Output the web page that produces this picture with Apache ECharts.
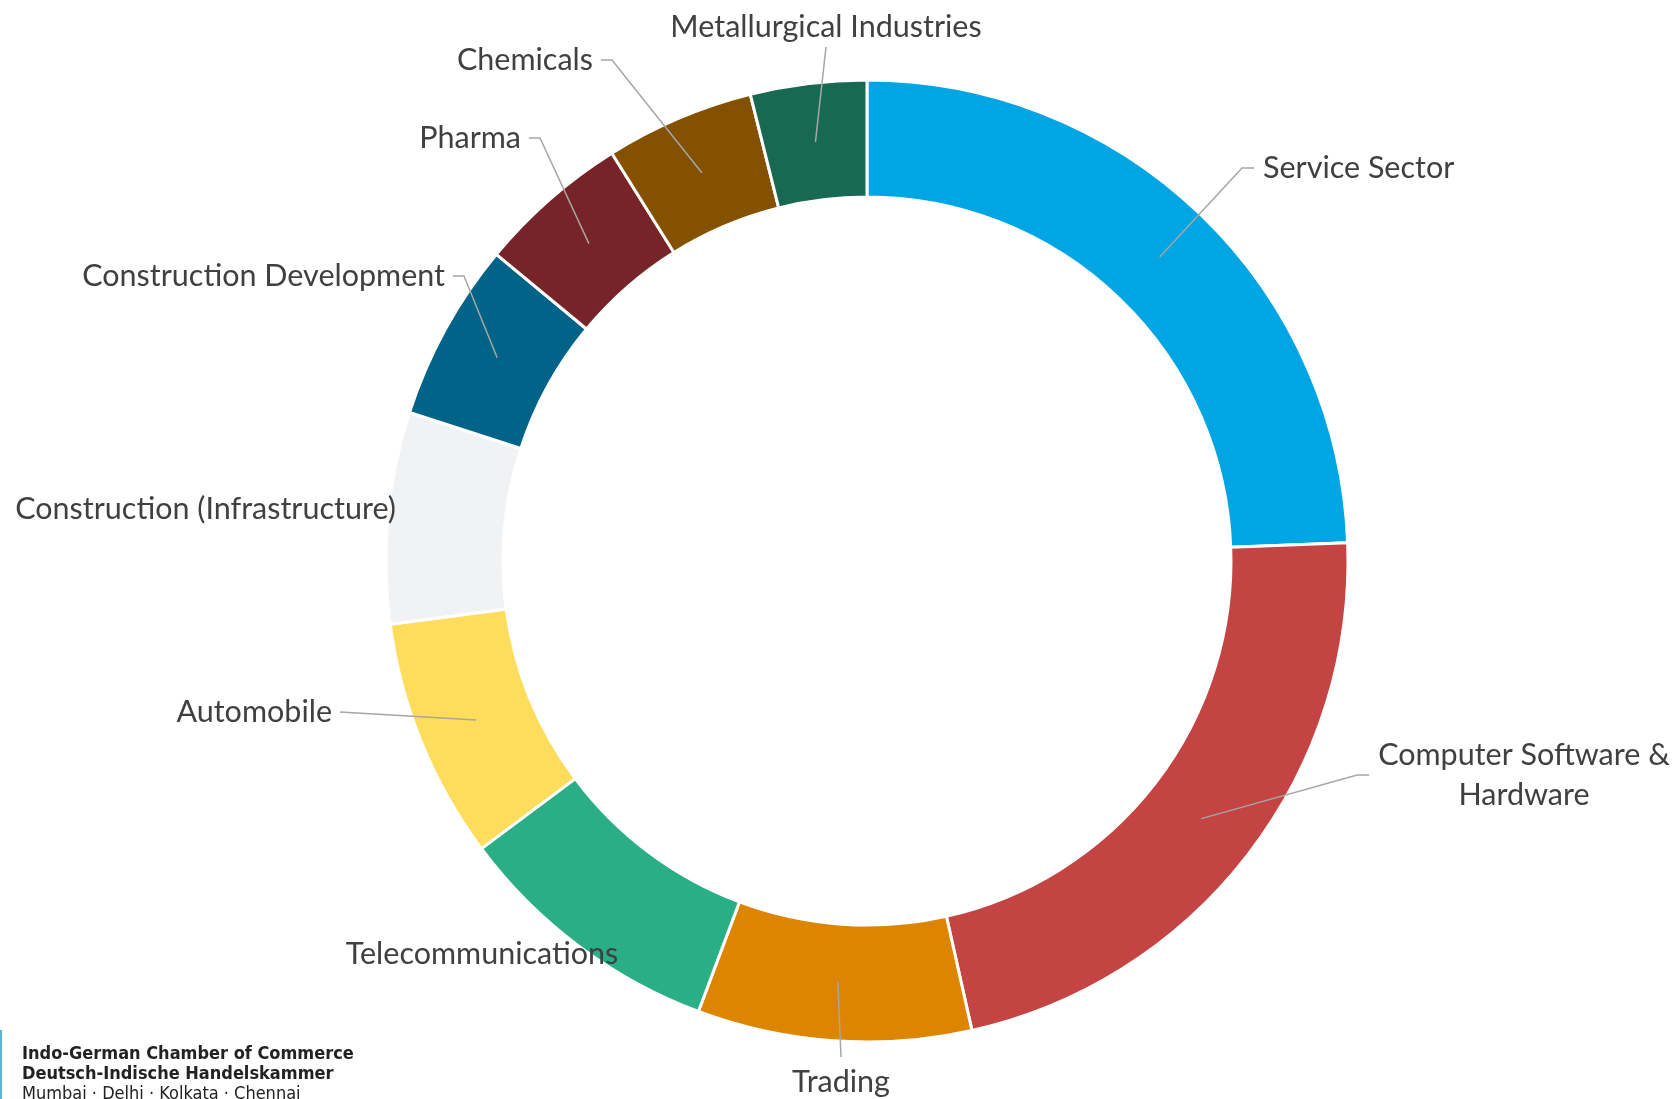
<!DOCTYPE html>
<html><head><meta charset="utf-8">
<script src="https://cdn.jsdelivr.net/npm/echarts/dist/echarts.min.js"></script>
<style>html,body{margin:0;padding:0;background:#fff}#c{width:1675px;height:1099px}</style>
</head><body><div id="c"></div>
<script>
const categories = ['Service Sector', 'Computer Software &\nHardware', 'Trading', 'Telecommunications', 'Automobile', 'Construction (Infrastructure)', 'Construction Development', 'Pharma', 'Chemicals', 'Metallurgical Industries'];
const shares = [24.4, 22.1, 9.2, 9.1, 8.1, 7.1, 6.0, 5.1, 5.0, 3.9];
const sliceColors = ['#00A5E3', '#C44343', '#DD8500', '#2AAE85', '#FFDD5C', '#F1F2F4', '#006387', '#762428', '#845100', '#176A51'];
const logoLines = ['Indo-German Chamber of Commerce', 'Deutsch-Indische Handelskammer', 'Mumbai · Delhi · Kolkata · Chennai'];

// label text placement (layout only): anchor x/y, text alignment, side the leader line arrives from
const labelPlacement = [
  { x: 1263, y: 168, align: 'left',   line: 'left',   elbow: true },
  { x: 1524, y: 775, align: 'center', line: 'left',   elbow: true },
  { x: 841,  y: 1082, align: 'center', line: 'top',   elbow: false },
  { x: 482,  y: 954, align: 'center', line: 'none',   elbow: false },
  { x: 332,  y: 712, align: 'right',  line: 'right',  elbow: false },
  { x: 396,  y: 509, align: 'right',  line: 'none',   elbow: false },
  { x: 445,  y: 276, align: 'right',  line: 'right',  elbow: true },
  { x: 521,  y: 138, align: 'right',  line: 'right',  elbow: true },
  { x: 593,  y: 60,  align: 'right',  line: 'right',  elbow: true },
  { x: 826,  y: 27,  align: 'center', line: 'bottom', elbow: false }
];

const chart = echarts.init(document.getElementById('c'));
const FONT = 'Lato';
chart.setOption({
  animation: false,
  backgroundColor: '#fff',
  series: [
    {
      type: 'pie', center: [867, 561], radius: [364, 481], startAngle: 90, clockwise: true,
      silent: true,
      data: categories.map((n, i) => ({ name: n, value: shares[i], itemStyle: { color: sliceColors[i] } })),
      itemStyle: { borderColor: '#fff', borderWidth: 3 },
      label: { show: false }, labelLine: { show: false }
    },
    {
      type: 'pie', center: [867, 561], radius: [0, 422], startAngle: 90, clockwise: true,
      silent: true, z: 5, avoidLabelOverlap: false,
      data: categories.map((n, i) => ({ name: n, value: shares[i], labelLine: { show: labelPlacement[i].line !== 'none' } })),
      itemStyle: { color: 'rgba(0,0,0,0)', borderWidth: 0 },
      label: { show: true, position: 'outside', formatter: '{b}', color: '#404040', fontSize: 30.5, fontFamily: FONT, lineHeight: 40, overflow: 'none', align: 'center' },
      labelLine: { show: true, length: 120, length2: 10, smooth: false, lineStyle: { color: '#a6a6a6', width: 1.5 } },
      labelLayout: function (p) {
        const pl = labelPlacement[p.dataIndex];
        const w = p.labelRect.width, h = p.labelRect.height;
        const res = { x: pl.x, y: pl.y, align: pl.align, verticalAlign: 'middle' };
        const left = pl.align === 'left' ? pl.x : (pl.align === 'center' ? pl.x - w / 2 : pl.x - w);
        const right = left + w;
        const s = p.labelLinePoints ? p.labelLinePoints[0] : null;
        if (s && pl.line !== 'none') {
          let end, elbow;
          if (pl.line === 'left') { end = [left - 9, pl.y]; elbow = pl.elbow ? [end[0] - 12, pl.y] : end; }
          else if (pl.line === 'right') { end = [right + 8, pl.y]; elbow = pl.elbow ? [end[0] + 11, pl.y] : end; }
          else if (pl.line === 'top') { end = [pl.x, pl.y - h / 2 - 5]; elbow = end; }
          else { end = [pl.x, pl.y + h / 2 + 0]; elbow = end; }
          res.labelLinePoints = [s.slice(), elbow, end];
        }
        return res;
      }
    }
  ],
  graphic: [
    { type: 'rect', shape: { x: 0, y: 1030, width: 2, height: 69 }, style: { fill: '#5bb5d0' } },
    { type: 'text', x: 22, y: 1045, style: { text: logoLines[0], font: 'bold 18px "Liberation Sans Narrow", "DejaVu Sans Condensed", sans-serif', fill: '#222' } },
    { type: 'text', x: 22, y: 1065, style: { text: logoLines[1], font: 'bold 18px "Liberation Sans Narrow", "DejaVu Sans Condensed", sans-serif', fill: '#222' } },
    { type: 'text', x: 22, y: 1085, style: { text: logoLines[2], font: '18px "Liberation Sans Narrow", "DejaVu Sans Condensed", sans-serif', fill: '#222' } }
  ]
});
</script></body></html>
